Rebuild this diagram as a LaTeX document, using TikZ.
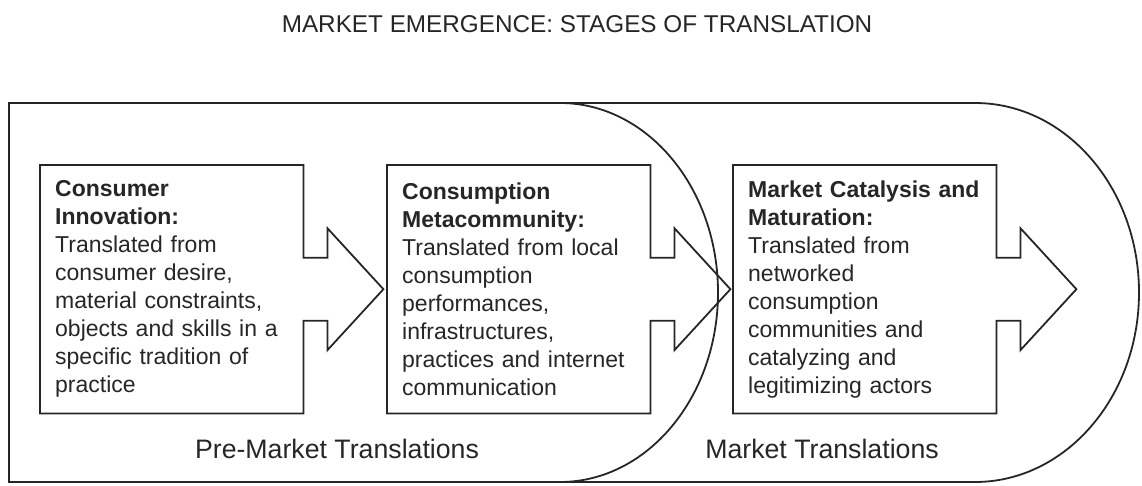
\documentclass[tikz,border=0pt]{standalone}
\usepackage{fontspec}
\setmainfont{Liberation Sans}
\usetikzlibrary{calc}
\definecolor{inkgray}{HTML}{262626}
\tikzset{
    outline/.style={draw=inkgray, line width=1.8pt, line join=miter},
    stage/.style={inner xsep=15pt, inner ysep=0pt, text width=233pt, minimum height=248pt,
        align=left, anchor=north west, font=\fontsize{23}{28}\selectfont, text=inkgray},
    phase/.style={anchor=base, font=\fontsize{26.7}{32}\selectfont, text=inkgray}
}

\begin{document}
\begin{tikzpicture}[x=1pt, y=1pt]
    \useasboundingbox (0,0) rectangle (1142,485);
    \node[anchor=base, font=\fontsize{24.3}{29}\selectfont, text=inkgray] (title) at (577,452)
        {MARKET EMERGENCE: STAGES OF TRANSLATION};

    % the two translation regions
    \draw[outline] (9,382) -- (975,382) arc[start angle=90, end angle=-90, x radius=164, y radius=189.5]
        -- (9,3) -- cycle;
    \draw[outline] (560,382) arc[start angle=90, end angle=-90, x radius=158, y radius=189.5];

    \node[phase] (pre) at (337,27) {Pre-Market Translations};
    \node[phase] (mkt) at (822,27) {Market Translations};

    % stages
    \node[stage] (inno) at (40,320) {\textbf{Consumer}\\ \textbf{Innovation:}\\ Translated from\\
        consumer desire,\\ material constraints,\\ objects and skills in a\\
        specific tradition of\\ practice};
    \node[stage] (meta) at (387,320) {\textbf{Consumption}\\ \textbf{Metacommunity:}\\
        Translated from local\\ consumption\\ performances,\\ infrastructures,\\
        practices and internet\\ communication};
    \node[stage] (cata) at (733,320) {\textbf{Market Catalysis and}\\ \textbf{Maturation:}\\
        Translated from\\ networked\\ consumption\\ communities and\\ catalyzing and\\
        legitimizing actors};

    \foreach \n in {inno,meta,cata}
        \draw[outline] (\n.north west) -- (\n.north east) -- ([yshift=31.5]\n.east)
            -- ([shift={(24,31.5)}]\n.east) -- ([shift={(24,61)}]\n.east) -- ([xshift=80]\n.east)
            -- ([shift={(24,-61)}]\n.east) -- ([shift={(24,-31.5)}]\n.east) -- ([yshift=-31.5]\n.east)
            -- (\n.south east) -- (\n.south west) -- cycle;
\end{tikzpicture}
\end{document}
